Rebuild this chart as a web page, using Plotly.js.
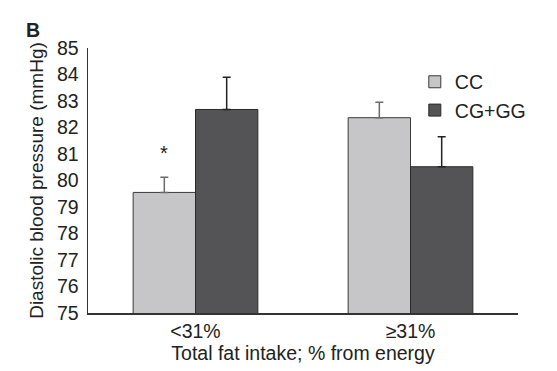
<!DOCTYPE html>
<html>
<head>
<meta charset="utf-8">
<script src="https://cdn.plot.ly/plotly-3.0.1.min.js"></script>
<style>html,body{margin:0;padding:0;background:#fff;}#chart{width:557px;height:371px;}</style>
</head>
<body>
<div id="chart"></div>
<script>
const categories = ['<31%', '≥31%'];
const seriesNames = ['CC', 'CG+GG'];
const ccValues = [79.55, 82.37];
const ccErrors = [0.57, 0.58];
const cgggValues = [82.68, 80.52];
const cgggErrors = [1.22, 1.13];
const yTicks = [75, 76, 77, 78, 79, 80, 81, 82, 83, 84, 85];

const FONT = 'Arial, "Liberation Sans", Helvetica, sans-serif';
const TXT = '#222';
const FS = 19.5;

const traces = [
  {
    type: 'bar', name: seriesNames[0], x: categories, y: ccValues,
    marker: {color: '#c6c6c8', line: {color: '#3a3a3a', width: 1}},
    error_y: {type: 'data', symmetric: false, array: ccErrors, arrayminus: [0, 0], color: '#6a6a6a', thickness: 1.5, width: 4}
  },
  {
    type: 'bar', name: seriesNames[1], x: categories, y: cgggValues,
    marker: {color: '#545456', line: {color: '#2a2a2a', width: 1}},
    error_y: {type: 'data', symmetric: false, array: cgggErrors, arrayminus: [0, 0], color: '#222', thickness: 1.5, width: 4}
  }
];

const layout = {
  width: 557, height: 371,
  margin: {l: 88, r: 39, t: 48, b: 58, pad: 0},
  paper_bgcolor: '#fff', plot_bgcolor: '#fff',
  font: {family: FONT, size: FS, color: TXT},
  barmode: 'group', bargap: 0.42, bargroupgap: 0,
  showlegend: true,
  legend: {x: 0.76, y: 0.945, xanchor: 'left', yanchor: 'top', bgcolor: 'rgba(0,0,0,0)',
           font: {family: FONT, size: FS, color: TXT}, itemwidth: 30, tracegroupgap: 0},
  xaxis: {
    type: 'category', range: [-0.5, 1.5], showline: true, linecolor: '#333', linewidth: 1.5,
    ticks: '', showgrid: false, zeroline: false, tickfont: {size: FS, color: TXT},
    title: {text: 'Total fat intake; % from energy', font: {size: FS, color: TXT}, standoff: 5}
  },
  yaxis: {
    range: [75, 85], tickvals: yTicks, ticktext: yTicks.map(String), showline: true, linecolor: '#333', linewidth: 1.5,
    ticks: '', ticklen: 0, showgrid: false, zeroline: false, tickfont: {size: FS, color: TXT},
    ticklabelstandoff: 4,
    title: {text: 'Diastolic blood pressure (mmHg)', font: {size: 19, color: TXT}, standoff: 8}
  },
  annotations: [
    {text: '<b>B</b>', xref: 'paper', yref: 'paper', x: -0.148, y: 1.068, xanchor: 'left', yanchor: 'middle',
     showarrow: false, font: {size: 19.5, color: TXT}},
    {text: '*', xref: 'x', yref: 'y', x: categories[0], y: ccValues[0] + ccErrors[0] + 0.9, xshift: -32,
     showarrow: false, font: {size: 20, color: TXT}}
  ]
};

Plotly.newPlot('chart', traces, layout, {displayModeBar: false, staticPlot: true});
</script>
</body>
</html>
